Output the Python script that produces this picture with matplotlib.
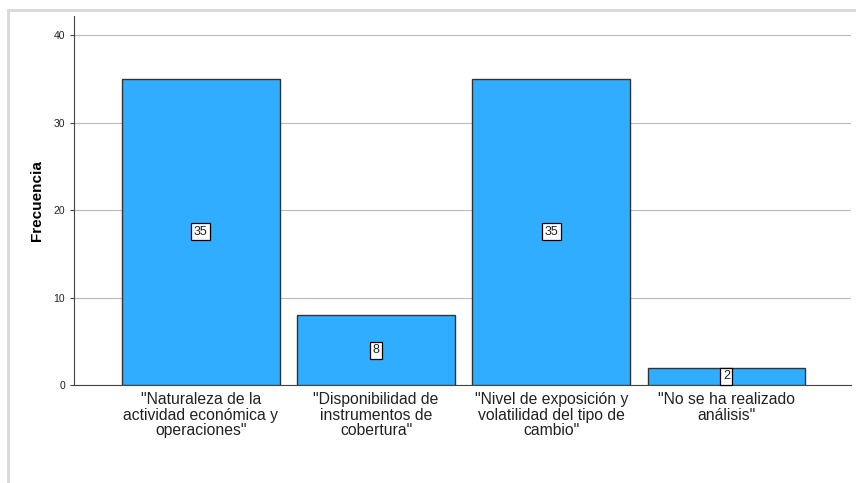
import matplotlib.pyplot as plt
from matplotlib.patches import Rectangle

plt.rcParams['font.family'] = ['Liberation Sans', 'DejaVu Sans']

categories = ['"Naturaleza de la\nactividad económica y\noperaciones"',
              '"Disponibilidad de\ninstrumentos de\ncobertura"',
              '"Nivel de exposición y\nvolatilidad del tipo de\ncambio"',
              '"No se ha realizado\nanálisis"']
counts = [35, 8, 35, 2]
yticks = [0, 10, 20, 30, 40]

fig = plt.figure(figsize=(8.56, 4.83), dpi=100)
ax = fig.add_axes([0.0864, 0.2029, 0.9076, 0.7641])

# marco exterior gris
fig.patches.append(Rectangle((8 / 856, -0.05), 1.0, 1.05 - 10 / 483,
                             transform=fig.transFigure, fill=False,
                             edgecolor='#d8d8d8', linewidth=2, zorder=0))

x = range(len(counts))
ax.bar(x, counts, width=0.9, color='#31adff', edgecolor='#333333',
       linewidth=1, zorder=3)

for i, v in enumerate(counts):
    ax.text(i, v / 2, str(v), ha='center', va='center', fontsize=9,
            color='#222222', zorder=4,
            bbox=dict(boxstyle='square,pad=0.2', facecolor='white',
                      edgecolor='black', linewidth=0.9))

ax.set_xlim(-0.724, 3.71)
ax.set_ylim(0, 42.2)
ax.set_yticks(yticks)
ax.set_xticks(list(x))
ax.set_xticklabels(categories, fontsize=11.3, color='#222222', linespacing=1.05)
ax.tick_params(axis='x', length=0, pad=5)
ax.tick_params(axis='y', labelsize=7.5, length=3, width=0.8, color='#444444',
               labelcolor='#222222')
ax.yaxis.grid(True, color='#bbbbbb', linewidth=0.8, zorder=0)
ax.set_axisbelow(True)

for s in ['top', 'right']:
    ax.spines[s].set_visible(False)
ax.spines['left'].set_color('#444444')
ax.spines['bottom'].set_color('#444444')

ax.set_ylabel('Frecuencia', fontsize=11, fontweight='bold', labelpad=7)

fig.savefig('out.png', dpi=100)
